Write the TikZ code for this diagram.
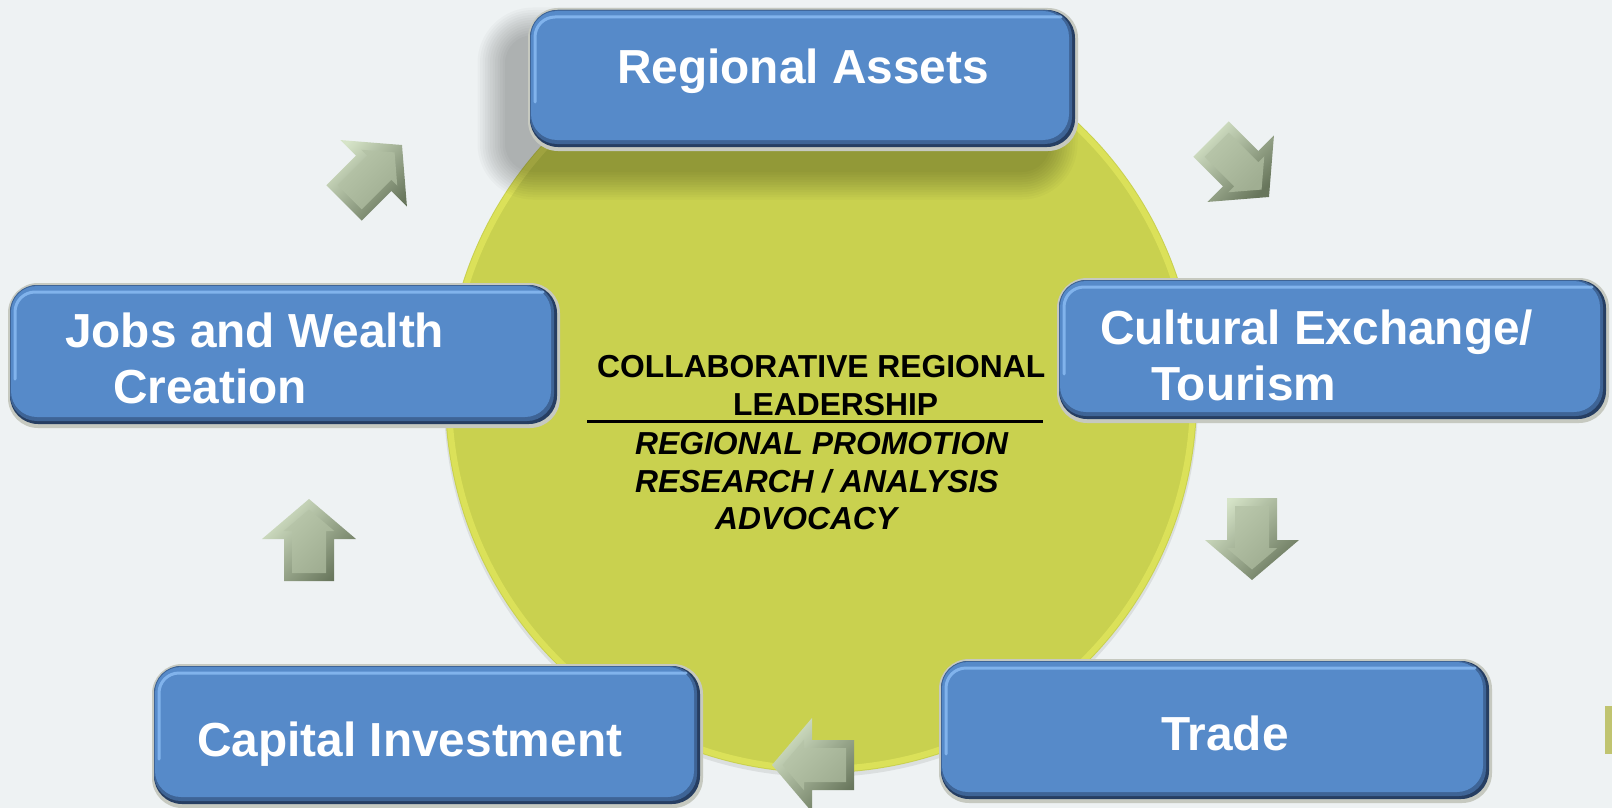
\documentclass[tikz,border=0pt]{standalone}
\usepackage{fontspec}
\setmainfont{Liberation Sans}
\definecolor{bg}{RGB}{238,242,243}
\definecolor{circ}{RGB}{201,209,79}
\definecolor{circrim}{RGB}{224,230,92}
\definecolor{boxbase}{RGB}{86,138,201}
\definecolor{boxmid}{RGB}{62,100,150}
\definecolor{boxdark}{RGB}{38,62,98}
\definecolor{boxhl}{RGB}{140,190,245}
\definecolor{rim}{RGB}{198,201,192}
\definecolor{arrlight}{RGB}{214,228,200}
\definecolor{arrdark}{RGB}{104,118,92}
\definecolor{arrtop}{RGB}{184,198,170}
\definecolor{arrbot}{RGB}{160,174,146}
\definecolor{edgeshape}{RGB}{192,196,112}
\tikzset{
  boxtxt/.style={anchor=base west, inner sep=0pt, text=white, font=\fontsize{47.8}{56}\selectfont\bfseries},
  hubtxt/.style={anchor=base west, inner sep=0pt, text=black, font=\fontsize{31.8}{38}\selectfont\bfseries},
  hubit/.style={anchor=base west, inner sep=0pt, text=black, font=\fontsize{31.8}{38}\selectfont\bfseries\itshape},
}
\newcommand\bluebox[6][]{%
  \fill[rim,rounded corners=30pt,#1] ({#3-2},{#4-2}) rectangle ({#5+3},{#6+4});
  \fill[boxdark,rounded corners=28pt] (#3,#4) rectangle (#5,#6);
  \fill[boxmid,rounded corners=27pt] (#3,#4) rectangle ({#5-3},{#6-3});
  \fill[boxbase,rounded corners=26pt] ({#3+1},{#4+1}) rectangle ({#5-6},{#6-7});
  \draw[boxhl,opacity=0.8,line width=3pt,rounded corners=20pt,line cap=round] ({#3+5},{#6-45}) -- ({#3+5},{#4+7}) -- ({#5-14},{#4+7});
  \node[inner sep=0pt,minimum width={#5-#3},minimum height={#6-#4}] (#2) at ({(#3+#5)/2},{(#4+#6)/2}) {};
}
\newcommand\bevarrow[4]{%
  \begin{scope}[shift={(#2,#3)},rotate=#4]
    \shade[top color=arrlight, bottom color=arrdark, shading angle=45]
      (41,0) -- (1,47) -- (1,25) -- (-41,25) -- (-41,-25) -- (1,-25) -- (1,-47) -- cycle;
    \shade[top color=arrtop, bottom color=arrbot, shading angle=45]
      (30.5,0) -- (9,25.3) -- (9,17) -- (-33,17) -- (-33,-17) -- (9,-17) -- (9,-25.3) -- cycle;
  \end{scope}
  \node[inner sep=0pt,minimum size=84pt] (#1) at (#2,#3) {};
}
\begin{document}
\begin{tikzpicture}[x=1pt,y=-1pt]
\useasboundingbox (0,0) rectangle (1612,808);
\fill[bg] (0,0) rectangle (1612,808);
% hub circle
\fill[black,opacity=0.08] (821,400) circle (377);
\node[circle,fill=circ,minimum size=752pt,inner sep=0pt] (hub) at (821,397) {};
\draw[circrim,line width=6pt,opacity=0.8] (821,397) circle (372);
% shadow of top box
\foreach \i in {0,...,11}{
  \pgfmathsetmacro\rr{28+\i*2.5}
  \fill[black,opacity=0.025,rounded corners=\rr pt] ({505-\i*2.5},{35-\i*2.5}) rectangle ({1050+\i*2.5},{172+\i*2.5});
}
% boxes
\bluebox{ra}{530}{10}{1075}{147}
\bluebox{jobs}{10}{285}{557}{424}
\bluebox{cult}{1059}{280}{1606}{419}
\bluebox{trade}{941}{661}{1489}{799}
\bluebox{capital}{154}{666}{700}{804}
% arrows
\bevarrow{a1}{373}{174}{45}
\bevarrow{a2}{1240}{168}{-45}
\bevarrow{a3}{1252}{539}{-90}
\bevarrow{a4}{309}{540}{90}
\bevarrow{a5}{813}{765}{180}
% box texts
\node[boxtxt] (tra) at (617,84) {Regional Assets};
\node[boxtxt] (tj1) at (65,347) {Jobs and Wealth};
\node[boxtxt] (tj2) at (113,403) {Creation};
\node[boxtxt] (tc1) at (1100,344) {Cultural Exchange/};
\node[boxtxt] (tc2) at (1151,400) {Tourism};
\node[boxtxt] (ttr) at (1161,750) {Trade};
\node[boxtxt] (tci) at (197,756) {Capital Investment};
% hub texts
\node[hubtxt] (h1) at (597,377) {COLLABORATIVE REGIONAL};
\node[hubtxt] (h2) at (733,415) {LEADERSHIP};
\coordinate (ulA) at (587,421);
\coordinate (ulB) at (1043,421);
\draw[black,line width=3pt] (ulA) -- (ulB);
\node[hubit] (h3) at (635,454) {REGIONAL PROMOTION};
\node[hubit] (h4) at (635,492) {RESEARCH / ANALYSIS};
\node[hubit] (h5) at (715,529) {ADVOCACY};
% partial shape at right edge
\fill[edgeshape] (1605,706) rectangle (1613,754);
\end{tikzpicture}
\end{document}
